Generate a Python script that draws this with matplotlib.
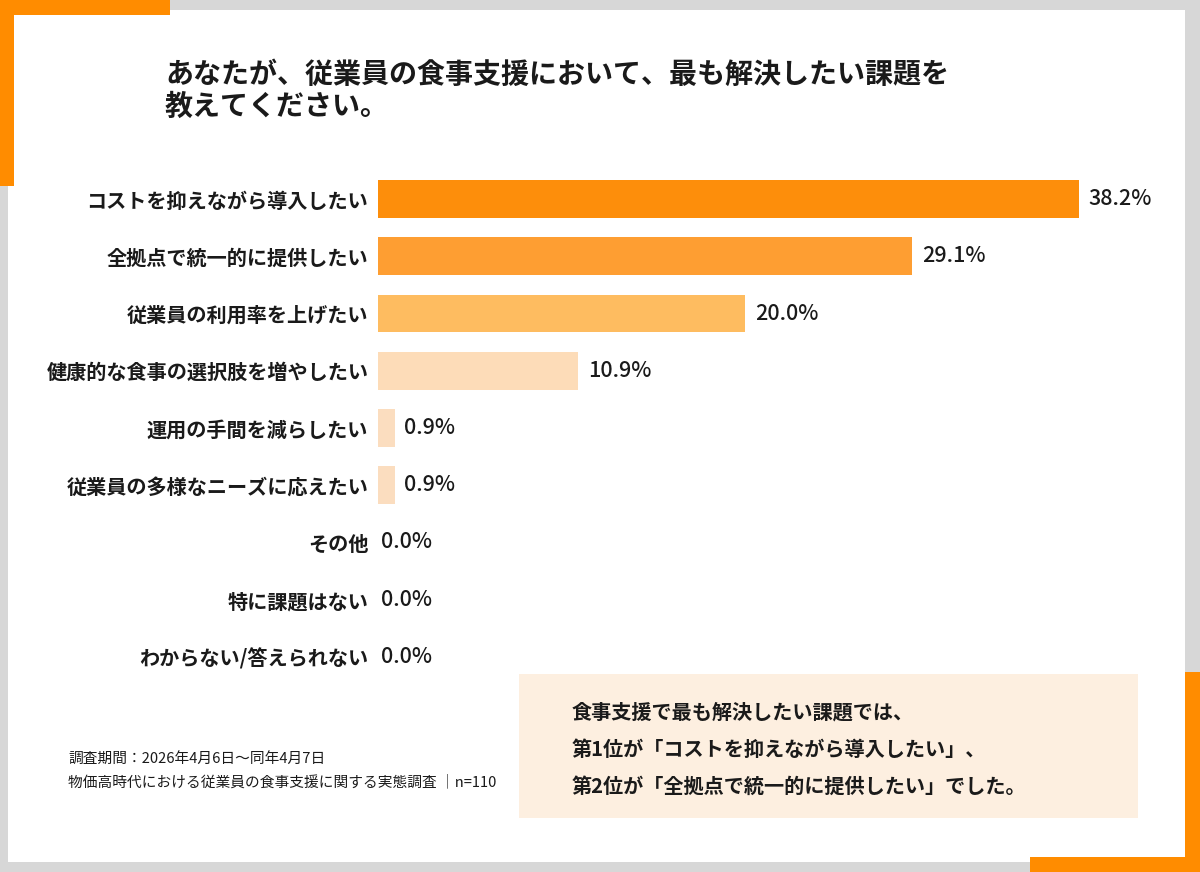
import matplotlib
matplotlib.use("Agg")
import matplotlib.pyplot as plt
from matplotlib.patches import Rectangle

plt.rcParams['font.family'] = ['Noto Sans CJK JP', 'DejaVu Sans']

# ---- data ----
categories = [
    "コストを抑えながら導入したい",
    "全拠点で統一的に提供したい",
    "従業員の利用率を上げたい",
    "健康的な食事の選択肢を増やしたい",
    "運用の手間を減らしたい",
    "従業員の多様なニーズに応えたい",
    "その他",
    "特に課題はない",
    "わからない/答えられない",
]
values = [38.2, 29.1, 20.0, 10.9, 0.9, 0.9, 0.0, 0.0, 0.0]
bar_colors = ["#FD8E0B", "#FE9E32", "#FEBC60", "#FDDCB8", "#FBDDBF",
              "#FBDDBF", "#FBDDBF", "#FBDDBF", "#FBDDBF"]
title_lines = ["あなたが、従業員の食事支援において、最も解決したい課題を",
               "教えてください。"]
summary_lines = ["食事支援で最も解決したい課題では、",
                 "第1位が「コストを抑えながら導入したい」、",
                 "第2位が「全拠点で統一的に提供したい」でした。"]
foot_lines = ["調査期間：2026年4月6日～同年4月7日",
              "物価高時代における従業員の食事支援に関する実態調査 │n=110"]

W, H = 1200, 872
fig = plt.figure(figsize=(W / 100, H / 100), dpi=100, facecolor="#d7d7d7")

def fx(x):
    return x / W

def fy(y):
    return 1 - y / H

ORANGE = "#FF8C00"
# white card
fig.patches.append(Rectangle((fx(8), fy(862)), fx(1185 - 8), (862 - 10) / H,
                             transform=fig.transFigure, facecolor="white",
                             edgecolor="none", zorder=-5))
# top-left orange corner
fig.patches.append(Rectangle((fx(0), fy(15)), fx(170), 15 / H,
                             transform=fig.transFigure, facecolor=ORANGE, edgecolor="none", zorder=-4))
fig.patches.append(Rectangle((fx(0), fy(186)), fx(14), 186 / H,
                             transform=fig.transFigure, facecolor=ORANGE, edgecolor="none", zorder=-4))
# bottom-right orange corner
fig.patches.append(Rectangle((fx(1030), fy(872)), fx(170), 15 / H,
                             transform=fig.transFigure, facecolor=ORANGE, edgecolor="none", zorder=-4))
fig.patches.append(Rectangle((fx(1185), fy(872)), fx(15), (872 - 672) / H,
                             transform=fig.transFigure, facecolor=ORANGE, edgecolor="none", zorder=-4))

# title
for i, line in enumerate(title_lines):
    fig.text(fx(165), fy(75 + 32 * i), line, fontsize=20.2, fontweight="bold",
             color="#1a1a1a", ha="left", va="center")

# bar axes
px_per_pct = 18.35
left_px, right_px = 378, 1180
top_px, bot_px = 170.4, 685.6
ax = fig.add_axes([fx(left_px), fy(bot_px), fx(right_px - left_px), (bot_px - top_px) / H])
ax.set_zorder(2)
ax.set_facecolor("none")
ypos = list(range(len(categories)))
ax.barh(ypos, values, height=0.66, color=bar_colors, edgecolor="none")
ax.set_xlim(0, (right_px - left_px) / px_per_pct)
ax.set_ylim(len(categories) - 0.5, -0.5)
ax.set_yticks(ypos)
ax.set_yticklabels(categories, fontsize=14.5, fontweight="bold", color="#1a1a1a")
ax.tick_params(axis="y", length=0, pad=7)
ax.set_xticks([])
for s in ax.spines.values():
    s.set_visible(False)
for y, v in zip(ypos, values):
    ax.annotate(f"{v:.1f}%", xy=(v, y), xytext=(7 if v > 0 else 2.5, 0),
                textcoords="offset points", ha="left", va="center",
                fontsize=15.5, fontweight="medium", color="#1a1a1a")

# summary box
fig.patches.append(Rectangle((fx(519), fy(818)), fx(1138 - 519), (818 - 674) / H,
                             transform=fig.transFigure, facecolor="#FDEFE0",
                             edgecolor="none", zorder=-3))
for i, line in enumerate(summary_lines):
    fig.text(fx(572), fy(712 + 37 * i), line, fontsize=14.5, fontweight="bold",
             color="#1a1a1a", ha="left", va="center", zorder=3)

# footnote
for i, line in enumerate(foot_lines):
    fig.text(fx(68), fy(759 + 23 * i), line, fontsize=10.6,
             color="#1a1a1a", ha="left", va="center")

fig.savefig("out.png", dpi=100, facecolor=fig.get_facecolor())
